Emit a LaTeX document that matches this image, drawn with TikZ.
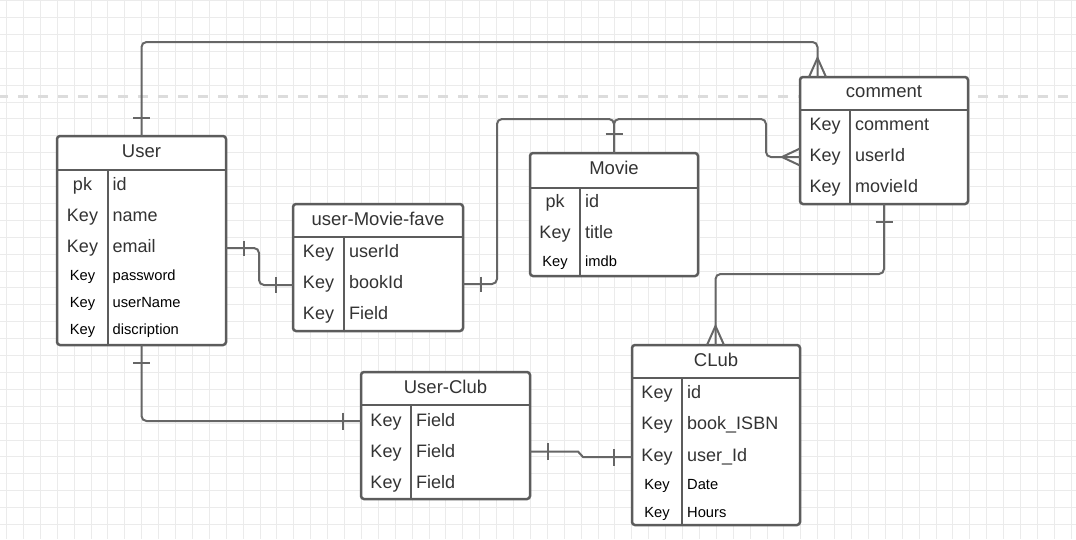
\documentclass[tikz,border=0pt]{standalone}
\usepackage{fontspec}
\setmainfont{Liberation Sans}
\usetikzlibrary{calc}
\definecolor{gridc}{HTML}{EBEBEB}
\definecolor{dashc}{HTML}{DCDCDC}
\definecolor{bordc}{HTML}{5C5C5C}
\definecolor{connc}{HTML}{666666}
\definecolor{txtc}{HTML}{333333}
\tikzset{
  gridline/.style={draw=gridc, line width=1pt},
  dashline/.style={draw=dashc, line width=3pt, dash pattern=on 10pt off 10pt, dash phase=2pt},
  tbl/.style={draw=bordc, line width=2.5pt, rounded corners=3pt, fill=white, inner sep=0pt, outer sep=0pt, anchor=north west},
  sepl/.style={draw=bordc, line width=2.5pt},
  conn/.style={draw=connc, line width=2pt, rounded corners=5pt},
  cardmark/.style={draw=connc, line width=2pt},
  hdr/.style={font=\fontsize{18.5}{20}\selectfont, text=txtc, anchor=base, inner sep=0pt},
  keyb/.style={font=\fontsize{18}{20}\selectfont, text=txtc, anchor=base, inner sep=0pt},
  keys/.style={font=\fontsize{14.7}{17}\selectfont, text=black, anchor=base, inner sep=0pt},
  fldb/.style={font=\fontsize{18}{20}\selectfont, text=txtc, anchor=base west, inner sep=0pt},
  flds/.style={font=\fontsize{14.7}{17}\selectfont, text=black, anchor=base west, inner sep=0pt},
}
\begin{document}
\begin{tikzpicture}[x=1pt,y=-1pt]
\useasboundingbox (0,0) rectangle (1076,539);
\fill[white] (0,0) rectangle (1076,539);
% grid
\foreach \i in {0,...,63} \draw[gridline] ({6.5+16.9*\i},0) -- ({6.5+16.9*\i},539);
\foreach \j in {0,...,31} \draw[gridline] (0,{0.6+16.9*\j}) -- (1076,{0.6+16.9*\j});
% dashed line
\draw[dashline] (0,96.5) -- (1076,96.5);

% tables (boxes)
\node[tbl, minimum width=169pt, minimum height=209pt] (user) at (57,136) {};
\node[tbl, minimum width=170pt, minimum height=127pt] (umf) at (293,204) {};
\node[tbl, minimum width=168pt, minimum height=123pt] (movie) at (530,153) {};
\node[tbl, minimum width=168pt, minimum height=127pt] (comment) at (800,77) {};
\node[tbl, minimum width=169pt, minimum height=127pt] (uclub) at (361,372) {};
\node[tbl, minimum width=168pt, minimum height=180pt] (club) at (632,345) {};

% connectors
\coordinate (c1) at (817.5,42);
\draw[conn] (user.north) |- (c1) -- ($(comment.north west)+(17.5,0)$);
\coordinate (c2a) at (259,248);
\coordinate (c2b) at (259,285);
\draw[conn] ($(user.north east)+(0,112)$) -- (c2a) -- (c2b) -- ($(umf.north west)+(0,81)$);
\coordinate (c3a) at (497,284);
\coordinate (c3b) at (497,119);
\coordinate (c3c) at (614,119);
\draw[conn] ($(umf.north east)+(0,80)$) -- (c3a) -- (c3b) -- (c3c) -- (movie.north);
\coordinate (c4a) at (766,119);
\coordinate (c4b) at (766,157);
\draw[conn] (movie.north) -- (c3c) -- (c4a) -- (c4b) -- ($(comment.north west)+(0,80)$);
\coordinate (c5a) at (884,274);
\coordinate (c5b) at (715.5,274);
\draw[conn] (comment.south) -- (c5a) -- (c5b) -- ($(club.north west)+(83.5,0)$);
\coordinate (c6a) at (141.5,421);
\draw[conn] (user.south) -- (c6a) -- ($(uclub.north west)+(0,49)$);
\coordinate (c7a) at (578,451.5);
\coordinate (c7b) at (583,457);
\draw[draw=connc, line width=2pt] ($(uclub.north east)+(0,79.5)$) -- (c7a) -- (c7b) -- ($(club.north west)+(0,112)$);

% header lines and column dividers
\draw[sepl] (57,170) -- (226,170);   \draw[sepl] (108,170) -- (108,345);
\draw[sepl] (293,237) -- (463,237);  \draw[sepl] (344,237) -- (344,331);
\draw[sepl] (530,188) -- (698,188);  \draw[sepl] (580,188) -- (580,276);
\draw[sepl] (800,110) -- (968,110);  \draw[sepl] (850,110) -- (850,204);
\draw[sepl] (361,405) -- (530,405);  \draw[sepl] (411,405) -- (411,499);
\draw[sepl] (632,378) -- (800,378);  \draw[sepl] (682,378) -- (682,525);

% User
\node[hdr] (userH) at (141.5,157) {User};
\node[keyb] (userK1) at (82.5,190) {pk};   \node[fldb] (userF1) at (112.5,190) {id};
\node[keyb] (userK2) at (82.5,221) {Key};  \node[fldb] (userF2) at (112.5,221) {name};
\node[keyb] (userK3) at (82.5,252) {Key};  \node[fldb] (userF3) at (112.5,252) {email};
\node[keys] (userK4) at (82.5,280) {Key};  \node[flds] (userF4) at (112.5,280) {password};
\node[keys] (userK5) at (82.5,307) {Key};  \node[flds] (userF5) at (112.5,307) {userName};
\node[keys] (userK6) at (82.5,334) {Key};  \node[flds] (userF6) at (112.5,334) {discription};

% user-Movie-fave
\node[hdr] (umfH) at (378,225) {user-Movie-fave};
\node[keyb] (umfK1) at (318.5,257) {Key};  \node[fldb] (umfF1) at (349,257) {userId};
\node[keyb] (umfK2) at (318.5,288) {Key};  \node[fldb] (umfF2) at (349,288) {bookId};
\node[keyb] (umfK3) at (318.5,319) {Key};  \node[fldb] (umfF3) at (349,319) {Field};

% Movie
\node[hdr] (movieH) at (614,174) {Movie};
\node[keyb] (movieK1) at (555,207) {pk};   \node[fldb] (movieF1) at (585,207) {id};
\node[keyb] (movieK2) at (555,238) {Key};  \node[fldb] (movieF2) at (585,238) {title};
\node[keys] (movieK3) at (555,266) {Key};  \node[flds] (movieF3) at (585,266) {imdb};

% comment
\node[hdr] (commentH) at (884,97) {comment};
\node[keyb] (commentK1) at (825,130) {Key};  \node[fldb] (commentF1) at (855,130) {comment};
\node[keyb] (commentK2) at (825,161) {Key};  \node[fldb] (commentF2) at (855,161) {userId};
\node[keyb] (commentK3) at (825,192) {Key};  \node[fldb] (commentF3) at (855,192) {movieId};

% User-Club
\node[hdr] (uclubH) at (445.5,393) {User-Club};
\node[keyb] (uclubK1) at (386,426) {Key};  \node[fldb] (uclubF1) at (416,426) {Field};
\node[keyb] (uclubK2) at (386,457) {Key};  \node[fldb] (uclubF2) at (416,457) {Field};
\node[keyb] (uclubK3) at (386,488) {Key};  \node[fldb] (uclubF3) at (416,488) {Field};

% CLub
\node[hdr] (clubH) at (716,366) {CLub};
\node[keyb] (clubK1) at (657,398) {Key};  \node[fldb] (clubF1) at (687,398) {id};
\node[keyb] (clubK2) at (657,429) {Key};  \node[fldb] (clubF2) at (687,429) {book\_ISBN};
\node[keyb] (clubK3) at (657,461) {Key};  \node[fldb] (clubF3) at (687,461) {user\_Id};
\node[keys] (clubK4) at (657,489) {Key};  \node[flds] (clubF4) at (687,489) {Date};
\node[keys] (clubK5) at (657,517) {Key};  \node[flds] (clubF5) at (687,517) {Hours};

% one-bars
\draw[cardmark] (133,118) -- (150,118);
\draw[cardmark] (244,240.5) -- (244,256);
\draw[cardmark] (275.5,277) -- (275.5,293);
\draw[cardmark] (481,276.5) -- (481,292);
\draw[cardmark] (605.5,134) -- (622.5,134);
\draw[cardmark] (875.5,222) -- (892.5,222);
\draw[cardmark] (133,362.5) -- (150,362.5);
\draw[cardmark] (343,412.5) -- (343,429.5);
\draw[cardmark] (548,443) -- (548,460);
\draw[cardmark] (613.5,449) -- (613.5,465.5);
% crow's feet
\draw[cardmark] (809,77) -- (817.5,58) -- (826,77);
\draw[cardmark] (800,148.5) -- (782,157) -- (800,165.5);
\draw[cardmark] (707,345) -- (715.5,326) -- (724,345);
\end{tikzpicture}
\end{document}
